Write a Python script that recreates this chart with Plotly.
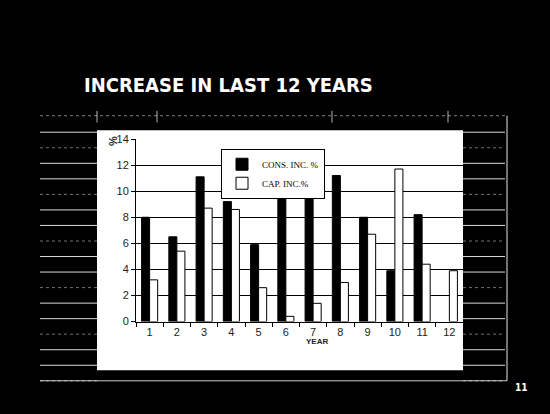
import plotly.graph_objects as go

years = [str(i) for i in range(1, 13)]
cons_inc = [8.0, 6.5, 11.1, 9.2, 5.9, 9.9, 10.7, 11.2, 8.0, 3.9, 8.2, None]
cap_inc = [3.2, 5.4, 8.7, 8.6, 2.6, 0.4, 1.4, 3.0, 6.7, 11.7, 4.4, 3.9]
y_ticks = [0, 2, 4, 6, 8, 10, 12, 14]

W, H = 550, 414
def px(x):
    return x / W
def py(y):
    return 1 - y / H

fig = go.Figure()
fig.add_trace(go.Bar(x=years, y=cons_inc, name="CONS. INC. %",
                     marker=dict(color="black", line=dict(color="black", width=1))))
fig.add_trace(go.Bar(x=years, y=cap_inc, name="CAP. INC.%",
                     marker=dict(color="white", line=dict(color="black", width=1))))

shapes = []
# white chart area
shapes.append(dict(type="rect", xref="paper", yref="paper", x0=px(97), x1=px(463),
                   y0=py(375), y1=py(128), fillcolor="white", line=dict(width=0), layer="below"))
# decorative background table lines
for k in range(17):
    yy = 130 + 16 * k
    bright = k % 3 != 1
    col = "rgba(255,255,255,0.85)" if bright else "rgba(255,255,255,0.45)"
    dash = "solid" if bright else "dot"
    shapes.append(dict(type="line", xref="paper", yref="paper", x0=px(40), x1=px(97),
                       y0=py(yy), y1=py(yy), line=dict(color=col, width=1, dash=dash), layer="below"))
    shapes.append(dict(type="line", xref="paper", yref="paper", x0=px(463), x1=px(505),
                       y0=py(yy), y1=py(yy), line=dict(color=col, width=1, dash=dash), layer="below"))
shapes.append(dict(type="line", xref="paper", yref="paper", x0=px(40), x1=px(507),
                   y0=py(113), y1=py(113), line=dict(color="rgba(255,255,255,0.5)", width=1, dash="dot"), layer="below"))
shapes.append(dict(type="line", xref="paper", yref="paper", x0=px(40), x1=px(507),
                   y0=py(386), y1=py(386), line=dict(color="rgba(255,255,255,0.8)", width=1), layer="below"))
shapes.append(dict(type="line", xref="paper", yref="paper", x0=px(507), x1=px(507),
                   y0=py(386), y1=py(113), line=dict(color="rgba(255,255,255,0.9)", width=1), layer="below"))
for xv in [97, 157, 332, 448]:
    shapes.append(dict(type="line", xref="paper", yref="paper", x0=px(xv), x1=px(xv),
                       y0=py(120), y1=py(108), line=dict(color="rgba(255,255,255,0.7)", width=1), layer="below"))

annotations = [
    dict(text="INCREASE IN LAST 12 YEARS", xref="paper", yref="paper", x=px(228), y=py(81),
         xanchor="center", yanchor="middle", showarrow=False,
         font=dict(family="DejaVu Sans Condensed", size=20, color="white", weight="bold")),
    dict(text="%", xref="paper", yref="paper", x=px(113), y=py(139), textangle=-90,
         xanchor="center", yanchor="middle", showarrow=False,
         font=dict(family="Liberation Sans", size=11, color="#222", weight="bold")),
    dict(text="YEAR", xref="paper", yref="paper", x=px(317), y=py(346),
         xanchor="center", yanchor="middle", showarrow=False,
         font=dict(family="Liberation Sans", size=8, color="#222", weight="bold")),
    dict(text="11", xref="paper", yref="paper", x=px(521), y=py(393),
         xanchor="center", yanchor="middle", showarrow=False,
         font=dict(family="DejaVu Sans Condensed", size=10, color="white", weight="bold")),
]

fig.update_layout(
    width=W, height=H,
    margin=dict(l=0, r=0, t=0, b=0),
    paper_bgcolor="black", plot_bgcolor="white",
    barmode="group", bargap=0.41, bargroupgap=0,
    showlegend=True,
    legend=dict(x=px(221), y=py(147), xanchor="left", yanchor="top",
                bgcolor="white", bordercolor="black", borderwidth=1,
                font=dict(family="Liberation Serif", size=9, color="black"),
                itemwidth=30, tracegroupgap=0),
    xaxis=dict(domain=[px(136), px(463)], type="category", showgrid=False,
               ticks="outside", tickson="boundaries", ticklen=4, tickcolor="black",
               showline=True, linecolor="black", linewidth=1,
               tickfont=dict(family="Liberation Sans", size=11, color="#222")),
    yaxis=dict(domain=[py(325), py(137)], range=[0, 14], tickvals=y_ticks,
               showgrid=True, gridcolor="black", gridwidth=1,
               ticks="outside", ticklen=4, tickcolor="black",
               showline=True, linecolor="black", linewidth=1, zeroline=False,
               tickfont=dict(family="Liberation Sans", size=11, color="#222")),
    shapes=shapes, annotations=annotations,
)

fig.write_html("out.html")
